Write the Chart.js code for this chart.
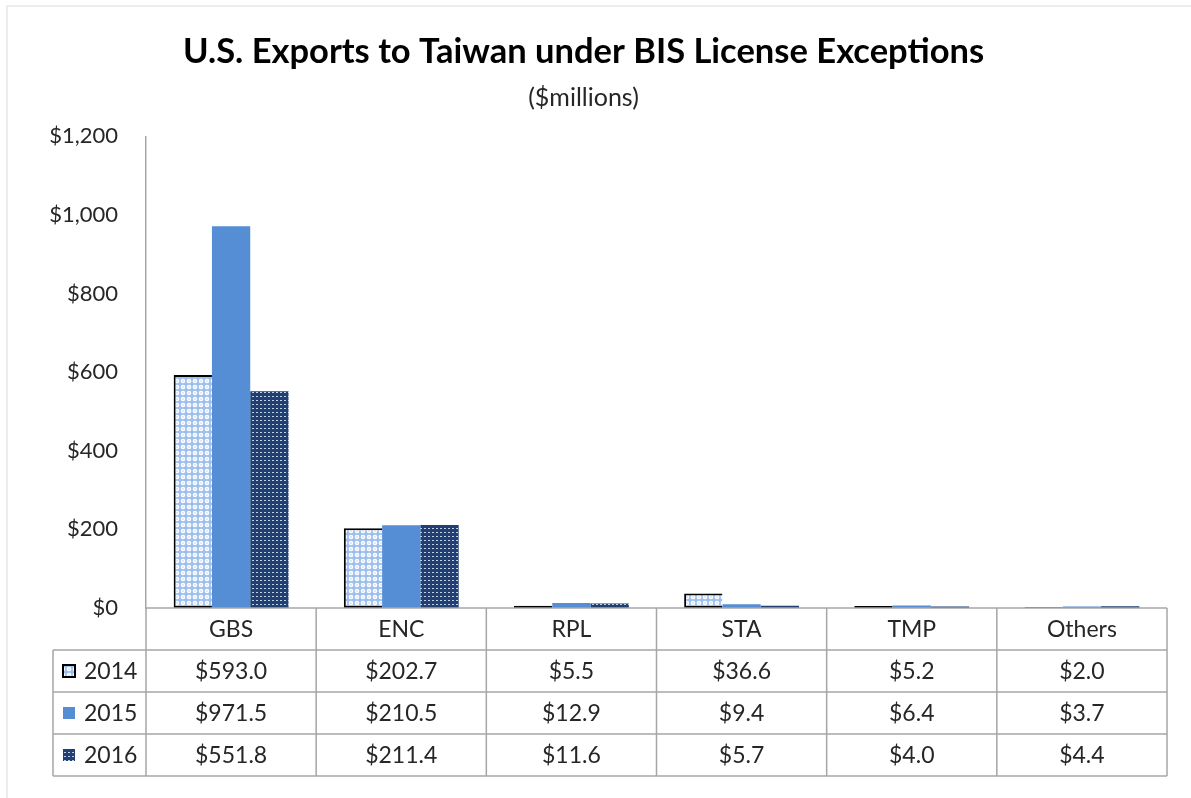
<!DOCTYPE html>
<html>
<head>
<meta charset="utf-8">
<script src="https://cdn.jsdelivr.net/npm/chart.js@4"></script>
<style>
    html, body { margin: 0; padding: 0; background: #fff; }
    #wrap { width: 1191px; height: 798px; position: relative; }
</style>
</head>
<body>
<div id="wrap"><canvas id="chart" width="1191" height="798"></canvas></div>
<script>
// Chart data
const categories = ['GBS', 'ENC', 'RPL', 'STA', 'TMP', 'Others'];
const years = ['2014', '2015', '2016'];
const values2014 = [593.0, 202.7, 5.5, 36.6, 5.2, 2.0];
const values2015 = [971.5, 210.5, 12.9, 9.4, 6.4, 3.7];
const values2016 = [551.8, 211.4, 11.6, 5.7, 4.0, 4.4];
const yMax = 1200;
const yStep = 200;

const FONT = 'Lato, "Open Sans", sans-serif';
const GRID = '#a6a6a6';
const TEXT = '#262626';

// light blue dotted fill used for 2014
function makeDotPattern() {
    const c = document.createElement('canvas');
    c.width = 6; c.height = 6;
    const g = c.getContext('2d');
    g.fillStyle = '#9fbfec';
    g.fillRect(0, 0, 6, 6);
    g.fillStyle = '#ffffff';
    g.beginPath();
    g.arc(3, 3, 2.3, 0, Math.PI * 2);
    g.fill();
    g.fillStyle = '#d6e4f8';
    g.beginPath();
    g.arc(3, 3, 1.0, 0, Math.PI * 2);
    g.fill();
    return g.createPattern(c, 'repeat');
}

// dark navy with small white dots used for 2016
function makeNavyPattern() {
    const c = document.createElement('canvas');
    c.width = 4; c.height = 4;
    const g = c.getContext('2d');
    g.fillStyle = '#213f70';
    g.fillRect(0, 0, 4, 4);
    g.fillStyle = '#c3d0e6';
    g.fillRect(0, 0, 2, 1);
    return g.createPattern(c, 'repeat');
}

const fill2014 = makeDotPattern();
const fill2015 = '#558ed5';
const fill2016 = makeNavyPattern();

const seriesValues = [values2014, values2015, values2016];
const seriesFills = [fill2014, fill2015, fill2016];

const fmtMoney = v => '$' + v.toLocaleString('en-US');

/**
 * Draws the data table under the plot, with legend keys in the first column
 */
const dataTablePlugin = {
    id: 'dataTable',
    beforeDraw(chart) {
        const ctx = chart.ctx;
        ctx.save();
        ctx.strokeStyle = '#ececec';
        ctx.lineWidth = 2;
        ctx.beginPath();
        ctx.moveTo(7, 798);
        ctx.lineTo(7, 6);
        ctx.lineTo(1191, 6);
        ctx.stroke();
        ctx.restore();
    },
    afterDraw(chart) {
        const ctx = chart.ctx;
        const x = chart.scales.x;
        const area = chart.chartArea;
        const n = categories.length;
        const colW = (x.right - x.left) / n;
        const top = area.bottom;
        const rowH = 42;
        const tableLeft = 53;
        const bottom = top + rowH * (years.length + 1);

        ctx.save();
        ctx.strokeStyle = GRID;
        ctx.lineWidth = 1.5;
        ctx.beginPath();
        // header top line (axis line)
        ctx.moveTo(x.left, top);
        ctx.lineTo(x.right, top);
        for (let r = 1; r <= years.length + 1; r++) {
            ctx.moveTo(tableLeft, top + r * rowH);
            ctx.lineTo(x.right, top + r * rowH);
        }
        for (let i = 0; i <= n; i++) {
            const px = x.left + i * colW;
            ctx.moveTo(px, top);
            ctx.lineTo(px, bottom);
        }
        ctx.moveTo(tableLeft, top + rowH);
        ctx.lineTo(tableLeft, bottom);
        ctx.stroke();

        ctx.fillStyle = TEXT;
        ctx.font = '23px ' + FONT;
        ctx.textAlign = 'center';
        ctx.textBaseline = 'middle';
        categories.forEach((cat, i) => {
            ctx.fillText(cat, x.getPixelForValue(i), top + rowH / 2 + 1);
        });

        years.forEach((yr, r) => {
            const cy = top + rowH * (r + 1) + rowH / 2;
            // legend key
            const kx = 63, ks = 12;
            ctx.fillStyle = seriesFills[r];
            ctx.fillRect(kx, cy - ks / 2, ks, ks);
            if (r === 0) {
                ctx.strokeStyle = '#000';
                ctx.lineWidth = 2;
                ctx.strokeRect(kx, cy - ks / 2, ks, ks);
            }
            ctx.fillStyle = TEXT;
            ctx.textAlign = 'left';
            ctx.fillText(yr, 84, cy + 1);
            ctx.textAlign = 'center';
            seriesValues[r].forEach((v, i) => {
                ctx.fillText('$' + v.toFixed(1), x.getPixelForValue(i), cy + 1);
            });
        });
        ctx.restore();
    }
};

const chartData = {
    labels: categories,
    datasets: [
        {
            label: years[0],
            data: values2014,
            backgroundColor: fill2014,
            borderColor: '#000000',
            borderWidth: 2,
            borderSkipped: 'right'
        },
        {
            label: years[1],
            data: values2015,
            backgroundColor: fill2015,
            borderWidth: 0
        },
        {
            label: years[2],
            data: values2016,
            backgroundColor: fill2016,
            borderWidth: 0
        }
    ]
};

const options = {
    responsive: false,
    animation: false,
    layout: {
        padding: { left: 0, right: 24, top: 0, bottom: 190 }
    },
    datasets: {
        bar: {
            categoryPercentage: 0.675,
            barPercentage: 1.0
        }
    },
    plugins: {
        legend: { display: false },
        tooltip: { enabled: false },
        title: {
            display: true,
            text: 'U.S. Exports to Taiwan under BIS License Exceptions',
            color: '#000',
            font: { family: FONT, size: 34.5, weight: 'bold' },
            padding: { top: 31, bottom: 11 }
        },
        subtitle: {
            display: true,
            text: '($millions)',
            color: TEXT,
            font: { family: FONT, size: 25 },
            padding: { top: 0, bottom: 23 }
        }
    },
    scales: {
        x: {
            display: false,
            grid: { display: false }
        },
        y: {
            min: 0,
            max: yMax,
            ticks: {
                stepSize: yStep,
                color: TEXT,
                padding: 28,
                font: { family: FONT, size: 22 },
                callback: (v) => fmtMoney(v)
            },
            grid: { display: false, drawTicks: false },
            border: { display: true, color: GRID, width: 1.5 },
            afterFit: (scale) => { scale.width = 146; }
        }
    }
};

new Chart(document.getElementById('chart'), {
    type: 'bar',
    data: chartData,
    options: options,
    plugins: [dataTablePlugin]
});
</script>
</body>
</html>
